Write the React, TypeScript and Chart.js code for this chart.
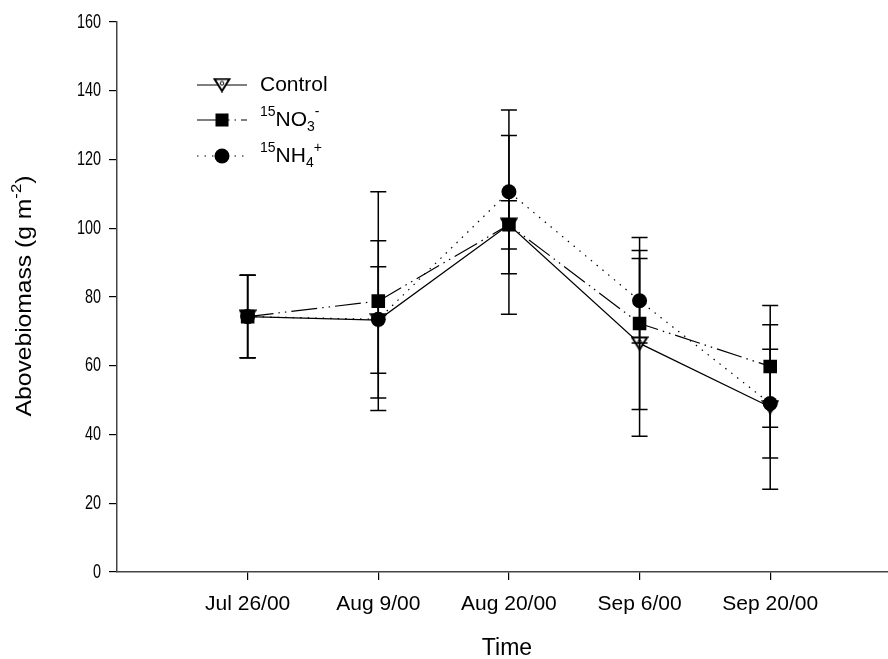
import React, { useEffect, useRef } from "react";
import { Chart, registerables } from "chart.js";
Chart.register(...registerables);

const categories = ["Jul 26/00", "Aug 9/00", "Aug 20/00", "Sep 6/00", "Sep 20/00"];
const controlMean = [74.3, 73.3, 101, 66.5, 48];
const controlErr = [12, 15.5, 26, 27, 23.9];
const no3Mean = [74.3, 78.8, 101, 72.3, 59.8];
const no3Err = [12, 31.8, 7, 25, 17.7];
const nh4Mean = [74.3, 73.5, 110.6, 78.9, 49];
const nh4Err = [12, 22.9, 23.8, 12.3, 15.8];
const yMin = 0;
const yMax = 160;
const yStep = 20;
const yTickLabels = ["0", "20", "40", "60", "80", "100", "120", "140", "160"];

const FONT = "'Liberation Sans', Arial, sans-serif";
const NO3_DASH = [26, 5, 1.5, 5, 1.5, 5];
const NH4_DASH = [1.5, 6];

function makeTriangle(): HTMLCanvasElement {
  const c = document.createElement("canvas");
  c.width = 18;
  c.height = 15;
  const ctx = c.getContext("2d")!;
  ctx.beginPath();
  ctx.moveTo(1.5, 1.5);
  ctx.lineTo(16.5, 1.5);
  ctx.lineTo(9, 13.5);
  ctx.closePath();
  ctx.fillStyle = "#fff";
  ctx.fill();
  ctx.lineWidth = 2;
  ctx.strokeStyle = "#000";
  ctx.stroke();
  ctx.beginPath();
  ctx.arc(9, 5.8, 1.8, 0, Math.PI * 2);
  ctx.lineWidth = 1;
  ctx.stroke();
  return c;
}

type Seg = { t: string; mode?: "sup" | "sub" };

function drawRich(ctx: CanvasRenderingContext2D, segs: Seg[], x: number, y: number, size: number, small: number) {
  let cx = x;
  for (const s of segs) {
    if (s.mode) {
      ctx.font = `${small}px ${FONT}`;
      const dy = s.mode === "sup" ? -size * 0.38 : size * 0.32;
      ctx.fillText(s.t, cx, y + dy);
      cx += ctx.measureText(s.t).width;
    } else {
      ctx.font = `${size}px ${FONT}`;
      ctx.fillText(s.t, cx, y);
      cx += ctx.measureText(s.t).width;
    }
  }
  return cx - x;
}

function richWidth(ctx: CanvasRenderingContext2D, segs: Seg[], size: number, small: number) {
  let w = 0;
  for (const s of segs) {
    ctx.font = `${s.mode ? small : size}px ${FONT}`;
    w += ctx.measureText(s.t).width;
  }
  return w;
}

export default function App() {
  const ref = useRef<HTMLCanvasElement | null>(null);
  useEffect(() => {
    if (!ref.current) return;
    const tri = makeTriangle();
    const series = [
      { mean: controlMean, err: controlErr },
      { mean: no3Mean, err: no3Err },
      { mean: nh4Mean, err: nh4Err },
    ];
    const errPlugin = {
      id: "errbars",
      afterDatasetsDraw(chart: any) {
        const ctx = chart.ctx as CanvasRenderingContext2D;
        const xs = chart.scales.x;
        const ys = chart.scales.y;
        ctx.save();
        ctx.strokeStyle = "#000";
        ctx.lineWidth = 1.5;
        series.forEach((s) => {
          s.mean.forEach((m, i) => {
            const px = xs.getPixelForValue(i);
            const top = ys.getPixelForValue(m + s.err[i]);
            const bot = ys.getPixelForValue(m - s.err[i]);
            ctx.beginPath();
            ctx.moveTo(px, top);
            ctx.lineTo(px, bot);
            ctx.moveTo(px - 8, top);
            ctx.lineTo(px + 8, top);
            ctx.moveTo(px - 8, bot);
            ctx.lineTo(px + 8, bot);
            ctx.stroke();
          });
        });
        ctx.restore();
      },
    };
    const textPlugin = {
      id: "texts",
      afterDraw(chart: any) {
        const ctx = chart.ctx as CanvasRenderingContext2D;
        const ys = chart.scales.y;
        ctx.save();
        ctx.fillStyle = "#000";
        ctx.textBaseline = "middle";
        // y tick labels (condensed)
        ctx.font = `20px ${FONT}`;
        ctx.textAlign = "right";
        yTickLabels.forEach((lab) => {
          const py = ys.getPixelForValue(Number(lab));
          ctx.save();
          ctx.translate(101, py);
          ctx.scale(0.72, 1);
          ctx.fillText(lab, 0, 0);
          ctx.restore();
        });
        ctx.textAlign = "left";
        // legend
        const lx0 = 197, lx1 = 247, mx = 222, tx = 260;
        const rows = [85, 120, 156];
        ctx.strokeStyle = "#000";
        ctx.lineWidth = 1.2;
        ctx.setLineDash([]);
        ctx.beginPath();
        ctx.moveTo(lx0, rows[0]);
        ctx.lineTo(lx1, rows[0]);
        ctx.stroke();
        ctx.drawImage(tri, mx - tri.width / 2, rows[0] - tri.height / 2);
        ctx.setLineDash(NO3_DASH);
        ctx.beginPath();
        ctx.moveTo(lx0, rows[1]);
        ctx.lineTo(lx1, rows[1]);
        ctx.stroke();
        ctx.setLineDash([]);
        ctx.fillRect(mx - 6.5, rows[1] - 6.5, 13, 13);
        ctx.setLineDash(NH4_DASH);
        ctx.beginPath();
        ctx.moveTo(lx0, rows[2]);
        ctx.lineTo(lx1, rows[2]);
        ctx.stroke();
        ctx.setLineDash([]);
        ctx.beginPath();
        ctx.arc(mx, rows[2], 7.5, 0, Math.PI * 2);
        ctx.fill();
        drawRich(ctx, [{ t: "Control" }], tx, rows[0], 21, 14);
        drawRich(ctx, [{ t: "15", mode: "sup" }, { t: "NO" }, { t: "3", mode: "sub" }, { t: "-", mode: "sup" }], tx, rows[1], 21, 14);
        drawRich(ctx, [{ t: "15", mode: "sup" }, { t: "NH" }, { t: "4", mode: "sub" }, { t: "+", mode: "sup" }], tx, rows[2], 21, 14);
        // x title
        ctx.font = `23px ${FONT}`;
        ctx.textAlign = "center";
        ctx.fillText("Time", 507, 649);
        // y title
        ctx.textAlign = "left";
        const ysegs: Seg[] = [{ t: "Abovebiomass (g m" }, { t: "-2", mode: "sup" }, { t: ")" }];
        const w = richWidth(ctx, ysegs, 22, 15);
        ctx.translate(25, 296);
        ctx.rotate(-Math.PI / 2);
        ctx.scale(1.12, 1);
        drawRich(ctx, ysegs, -w / 2, 0, 22, 15);
        ctx.restore();
      },
    };
    const chart = new Chart(ref.current, {
      type: "line",
      data: {
        datasets: [
          {
            label: "Control",
            data: controlMean.map((v, i) => ({ x: i, y: v })),
            borderColor: "#000",
            borderWidth: 1.2,
            pointStyle: tri as any,
            pointRadius: 8,
            backgroundColor: "#fff",
            order: 3,
          },
          {
            label: "NO3",
            data: no3Mean.map((v, i) => ({ x: i, y: v })),
            borderColor: "#000",
            borderWidth: 1.2,
            borderDash: NO3_DASH,
            pointStyle: "rect",
            pointRadius: 9.6,
            pointBackgroundColor: "#000",
            pointBorderWidth: 0,
            order: 1,
          },
          {
            label: "NH4",
            data: nh4Mean.map((v, i) => ({ x: i, y: v })),
            borderColor: "#000",
            borderWidth: 1.2,
            borderDash: NH4_DASH,
            pointStyle: "circle",
            pointRadius: 7.5,
            pointBackgroundColor: "#000",
            pointBorderWidth: 0,
            order: 2,
          },
        ],
      },
      options: {
        animation: false,
        responsive: false,
        devicePixelRatio: 1,
        layout: { padding: { top: 22, left: 0, right: 0, bottom: 0 } },
        plugins: { legend: { display: false }, tooltip: { enabled: false } },
        elements: { line: { tension: 0 } },
        scales: {
          x: {
            type: "linear",
            min: -1,
            max: 4.92,
            afterBuildTicks: (scale: any) => {
              scale.ticks = categories.map((_, i) => ({ value: i }));
            },
            afterFit: (scale: any) => {
              scale.height = 87;
            },
            ticks: {
              autoSkip: false,
              maxRotation: 0,
              padding: 12,
              color: "#000",
              font: { family: FONT, size: 21 },
              callback: (v: any) => categories[v as number] ?? "",
            },
            grid: { drawOnChartArea: false, drawTicks: true, tickLength: 8, color: "#000", lineWidth: 1.2 },
            border: { display: true, color: "#444", width: 1.5 },
          },
          y: {
            min: yMin,
            max: yMax,
            afterFit: (scale: any) => {
              scale.width = 117;
            },
            ticks: {
              stepSize: yStep,
              padding: 8,
              color: "rgba(0,0,0,0)",
              font: { family: FONT, size: 19 },
            },
            grid: { drawOnChartArea: false, drawTicks: true, tickLength: 8, color: "#000", lineWidth: 1.2 },
            border: { display: true, color: "#444", width: 1.5 },
          },
        },
      },
      plugins: [errPlugin, textPlugin],
    });
    return () => chart.destroy();
  }, []);
  return (
    <div style={{ position: "fixed", left: 0, top: 0, width: 888, height: 659, overflow: "hidden", background: "#fff" }}>
      <canvas ref={ref} width={900} height={659} style={{ width: 900, height: 659, display: "block" }} />
    </div>
  );
}
